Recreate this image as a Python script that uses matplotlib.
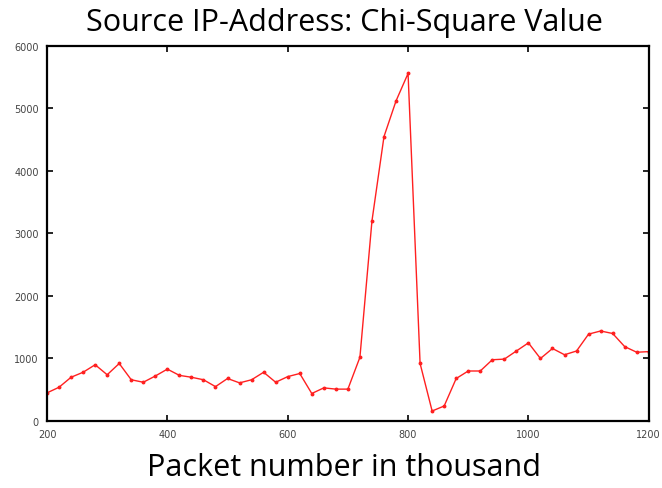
import matplotlib
matplotlib.use('Agg')
from matplotlib import pyplot as plt

# packet number (thousands) and chi-square value
packets = list(range(200, 1201, 20))
chi_square = [450, 540, 700, 780, 900, 740, 920, 660, 620, 720,
              830, 730, 700, 660, 550, 680, 610, 660, 780, 620,
              710, 760, 440, 530, 510, 510, 1020, 3200, 4550, 5120,
              5560, 920, 160, 240, 680, 800, 800, 980, 990, 1120,
              1250, 1000, 1160, 1060, 1120, 1390, 1440, 1400, 1190, 1100,
              1110]
x_ticks = [200, 400, 600, 800, 1000, 1200]
y_ticks = [0, 1000, 2000, 3000, 4000, 5000, 6000]

fig = plt.figure(figsize=(6.62, 4.89), dpi=100)
ax = fig.add_axes([0.071, 0.137, 0.909, 0.767])

ax.plot(packets, chi_square, color='#ff2020', linewidth=1.0,
        marker='o', markersize=1.8)

ax.set_xlim(200, 1200)
ax.set_ylim(0, 6000)
ax.set_xticks(x_ticks)
ax.set_yticks(y_ticks)
ax.tick_params(direction='in', top=True, right=True, length=4, width=1.2,
               labelsize=7, labelcolor='#444444', pad=6)
for s in ax.spines.values():
    s.set_linewidth(1.6)

fig.text(0.52, 0.952, 'Source IP-Address: Chi-Square Value', ha='center', va='center',
         fontsize=22, family='Open Sans')
fig.text(0.52, 0.042, 'Packet number in thousand', ha='center', va='center',
         fontsize=22, family='Open Sans')

plt.savefig('out.png', dpi=100)
